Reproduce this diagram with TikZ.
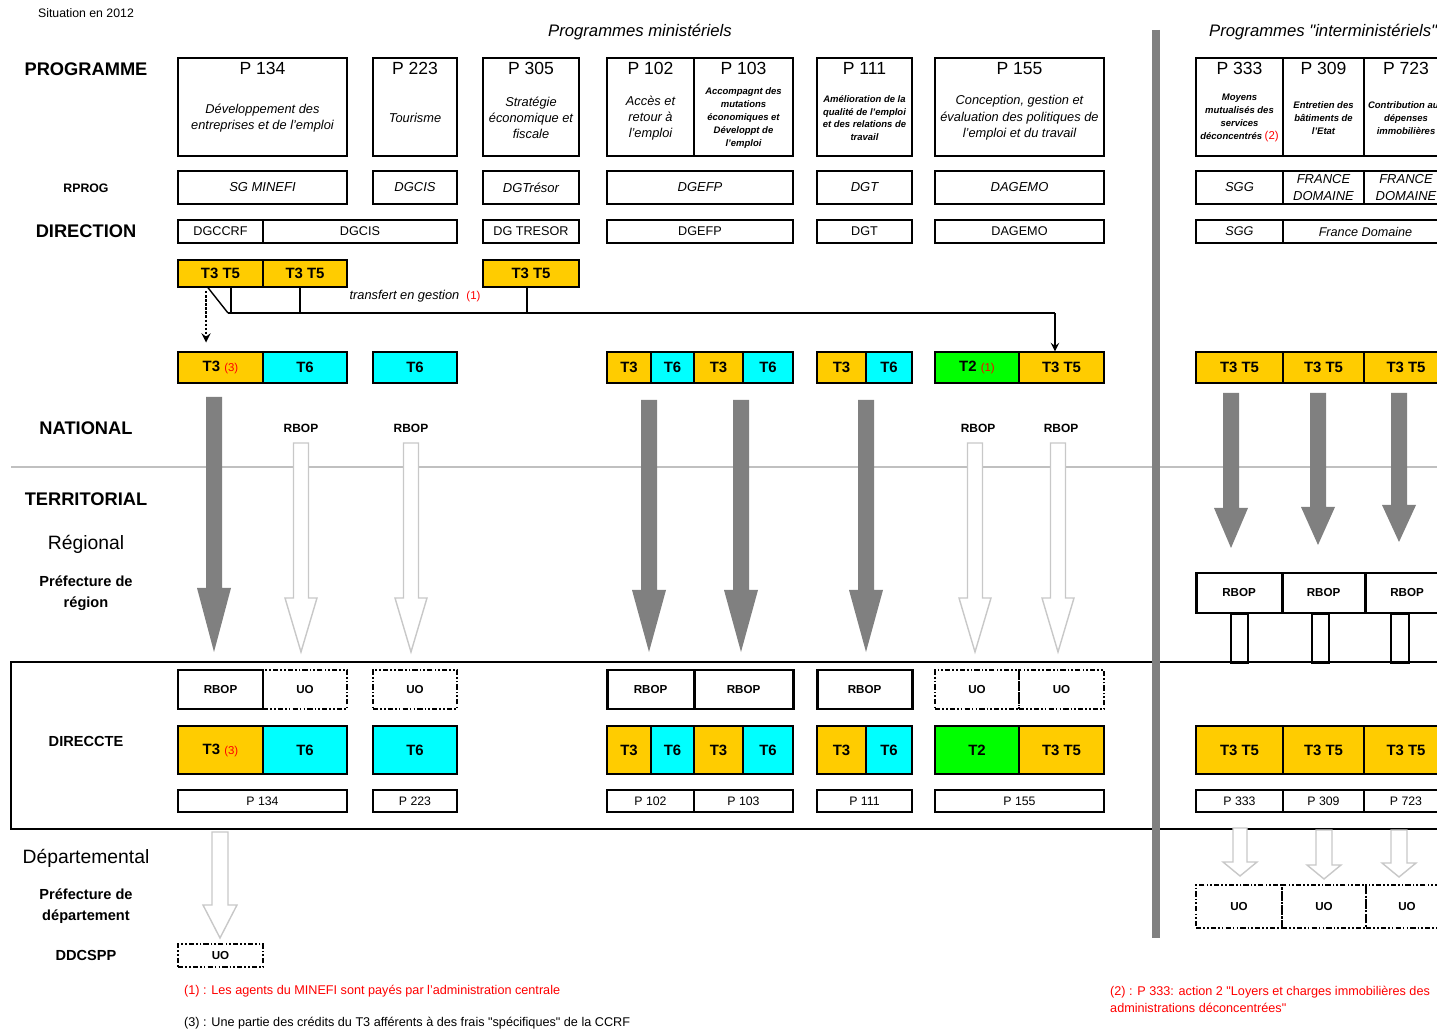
\documentclass[tikz,border=0pt]{standalone}
\usepackage{fontspec}
\setmainfont{Liberation Sans}
\usepackage{tikz}
\usetikzlibrary{arrows,positioning}
\definecolor{tjaune}{HTML}{FFCC00}
\definecolor{tcyan}{HTML}{00FFFF}
\definecolor{tvert}{HTML}{00FF00}
\definecolor{gfonce}{HTML}{808080}
\definecolor{gclair}{HTML}{C8C8C8}
\definecolor{glimite}{HTML}{C0C0C0}
\newcommand{\appel}[1]{{\mdseries\upshape\fontsize{6.5}{8}\selectfont\color{red}#1}}
\newcommand{\flechebloc}[7]{%
  \path[#1] (#2-#6,#3) -- (#2+#6,#3) -- (#2+#6,#4) -- (#2+#7,#4)
    -- (#2,#5) -- (#2-#7,#4) -- (#2-#6,#4) -- cycle;}
\tikzstyle{lvl} = [font=\fontsize{10.4}{12}\selectfont\bfseries]
\tikzstyle{sublvl} = [font=\fontsize{11}{13}\selectfont]
\tikzstyle{lvlsmall} = [align=center, font=\fontsize{8.3}{12}\selectfont\bfseries]
\tikzstyle{entete} = [font=\fontsize{9.5}{11}\selectfont\itshape]
\tikzstyle{prog} = [rectangle, draw=black, line width=0.9pt, inner sep=0pt, minimum height=1.96cm]
\tikzstyle{progtitle} = [font=\fontsize{10}{12}\selectfont]
\tikzstyle{progtext} = [align=center, font=\fontsize{7.3}{9.3}\selectfont\itshape]
\tikzstyle{progtiny} = [align=center, font=\fontsize{5.4}{7.3}\selectfont\bfseries\itshape]
\tikzstyle{rprog} = [rectangle, draw=black, line width=0.9pt, inner sep=0pt, minimum height=0.66cm, align=center, font=\fontsize{7.4}{9.5}\selectfont\itshape]
\tikzstyle{dirbox} = [rectangle, draw=black, line width=0.9pt, inner sep=0pt, minimum height=0.46cm, font=\fontsize{7.2}{8.5}\selectfont]
\tikzstyle{titre} = [rectangle, draw=black, line width=0.8pt, inner sep=0pt, font=\fontsize{8.5}{10}\selectfont\bfseries]
\tikzstyle{t35box} = [titre, fill=tjaune]
\tikzstyle{t6box} = [titre, fill=tcyan]
\tikzstyle{t2box} = [titre, fill=tvert]
\tikzstyle{rbop} = [rectangle, draw=black, line width=1.7pt, inner sep=0pt, font=\fontsize{6.6}{8}\selectfont\bfseries]
\tikzstyle{uo} = [rectangle, draw=black, line width=0.9pt, dash pattern=on 3pt off 1.2pt on 0.9pt off 1.2pt on 0.9pt off 1.2pt, inner sep=0pt, font=\fontsize{6.6}{8}\selectfont\bfseries]
\tikzstyle{pcode} = [rectangle, draw=black, line width=0.9pt, inner sep=0pt, minimum height=0.44cm, font=\fontsize{7}{8}\selectfont]
\tikzstyle{etiq} = [font=\fontsize{6.8}{8}\selectfont\bfseries]
\tikzstyle{note} = [anchor=west, align=left, font=\fontsize{7.2}{9.6}\selectfont]
\tikzstyle{cadre} = [rectangle, draw=black, line width=1.2pt, inner sep=0pt]
\tikzstyle{limite} = [draw=glimite, line width=1.7pt]
\tikzstyle{separateur} = [draw=gfonce, line width=4pt]
\tikzstyle{sombre} = [fill=gfonce]
\tikzstyle{clair} = [fill=white, draw=gclair, line width=0.8pt]
\tikzstyle{transfert} = [line width=1.5pt]
\tikzstyle{fine} = [line width=0.8pt]
\tikzstyle{fleche} = [line width=1.1pt,->,>=stealth]
\tikzstyle{pointille} = [densely dotted, line width=1.3pt, ->, >=stealth, shorten <=2pt, shorten >=5pt]
\tikzstyle{tige} = [draw=black, line width=0.8pt]
\tikzset{larg/.style={minimum width=#1*0.02cm}, haut/.style={minimum height=#1*0.02cm}}

\begin{document}
\begin{tikzpicture}[x=0.02cm, y=-0.02cm]
\useasboundingbox (0,0) rectangle (1437,1033);
\clip (0,0) rectangle (1437,1033);

% cadre DIRECCTE et limite national / territorial
\node[cadre, larg=1449, haut=167] (direccte) at (735.5,745.5) {};
\draw[limite] (11,467) -- (1437,467);

% niveaux
\node[font=\fontsize{7}{8}\selectfont] (situation) at (86,13) {Situation en 2012};
\node[lvl] (lprog) at (86,69) {PROGRAMME};
\node[etiq, font=\fontsize{7}{8}\selectfont\bfseries] (lrprog) at (86,188) {RPROG};
\node[lvl] (ldir) at (86,231) {DIRECTION};
\node[lvl] (lnat) at (86,428) {NATIONAL};
\node[lvl] (lterr) at (86,499) {TERRITORIAL};
\node[sublvl] (lreg) at (86,544) {Régional};
\node[lvlsmall] (lpref) at (86,593) {Préfecture de\\région};
\node[lvlsmall] (ldirec) at (86,741) {DIRECCTE};
\node[sublvl] (ldep) at (86,858) {Départemental};
\node[lvlsmall] (lprefd) at (86,906.5) {Préfecture de\\département};
\node[lvlsmall] (lddc) at (86,955) {DDCSPP};

\node[entete] (ministeriels) at (640,32) {Programmes ministériels};
\node[entete, anchor=west] (interministeriels) at (1203,32) {Programmes \textquotedbl interministériels\textquotedbl};

% programmes
\node[prog, larg=169] (p134) at (262.5,107) {};
\node[progtitle] (n134) at (p134.north) [yshift=-0.22cm] {P 134};
\node[progtext] (x134) at (p134) [yshift=-0.22cm] {Développement des\\entreprises et de l'emploi};
\node[prog, larg=84] (p223) at (415,107) {};
\node[progtitle] (n223) at (p223.north) [yshift=-0.22cm] {P 223};
\node[progtext] (x223) at (p223) [yshift=-0.22cm] {Tourisme};
\node[prog, larg=96] (p305) at (531,107) {};
\node[progtitle] (n305) at (p305.north) [yshift=-0.22cm] {P 305};
\node[progtext] (x305) at (p305) [yshift=-0.22cm] {Stratégie\\économique et\\fiscale};
\node[prog, larg=87] (p102) at (650.5,107) {};
\node[progtitle] (n102) at (p102.north) [yshift=-0.22cm] {P 102};
\node[progtext] (x102) at (p102) [yshift=-0.22cm] {Accès et\\retour à\\l'emploi};
\node[prog, larg=99] (p103) at (743.5,107) {};
\node[progtitle] (n103) at (p103.north) [yshift=-0.22cm] {P 103};
\node[progtiny] (x103) at (p103) [yshift=-0.22cm] {Accompagnt des\\mutations\\économiques et\\Développt de\\l'emploi};
\node[prog, larg=95] (p111) at (864.5,107) {};
\node[progtitle] (n111) at (p111.north) [yshift=-0.22cm] {P 111};
\node[progtiny] (x111) at (p111) [yshift=-0.22cm] {Amélioration de la\\qualité de l'emploi\\et des relations de\\travail};
\node[prog, larg=169] (p155) at (1019.5,107) {};
\node[progtitle] (n155) at (p155.north) [yshift=-0.22cm] {P 155};
\node[progtext] (x155) at (p155) [yshift=-0.22cm] {Conception, gestion et\\évaluation des politiques de\\l'emploi et du travail};
\node[prog, larg=87] (p333) at (1239.5,107) {};
\node[progtitle] (n333) at (p333.north) [yshift=-0.22cm] {P 333};
\node[progtiny] (x333) at (p333) [yshift=-0.22cm] {Moyens\\mutualisés des\\services\\déconcentrés \appel{(2)}};
\node[prog, larg=81] (p309) at (1323.5,107) {};
\node[progtitle] (n309) at (p309.north) [yshift=-0.22cm] {P 309};
\node[progtiny] (x309) at (p309) [yshift=-0.22cm] {Entretien des\\bâtiments de\\l'Etat};
\node[prog, larg=84] (p723) at (1406,107) {};
\node[progtitle] (n723) at (p723.north) [yshift=-0.22cm] {P 723};
\node[progtiny] (x723) at (p723) [yshift=-0.22cm] {Contribution aux\\dépenses\\immobilières};

% responsables de programme
\node[rprog, larg=169] (rp134) at (262.5,187.5) {SG MINEFI};
\node[rprog, larg=84] (rp223) at (415,187.5) {DGCIS};
\node[rprog, larg=96] (rp305) at (531,187.5) {DGTrésor};
\node[rprog, larg=186] (rp102) at (700,187.5) {DGEFP};
\node[rprog, larg=95] (rp111) at (864.5,187.5) {DGT};
\node[rprog, larg=169] (rp155) at (1019.5,187.5) {DAGEMO};
\node[rprog, larg=87] (rp333) at (1239.5,187.5) {SGG};
\node[rprog, larg=81] (rp309) at (1323.5,187.5) {FRANCE\\DOMAINE};
\node[rprog, larg=84] (rp723) at (1406,187.5) {FRANCE\\DOMAINE};

% directions
\node[dirbox, larg=85] (d134) at (220.5,231.5) {DGCCRF};
\node[dirbox, larg=194] (d223) at (360,231.5) {DGCIS};
\node[dirbox, larg=96] (d305) at (531,231.5) {DG TRESOR};
\node[dirbox, larg=186] (d102) at (700,231.5) {DGEFP};
\node[dirbox, larg=95] (d111) at (864.5,231.5) {DGT};
\node[dirbox, larg=169] (d155) at (1019.5,231.5) {DAGEMO};
\node[dirbox, larg=87, font=\fontsize{7.2}{8.5}\selectfont\itshape] (d333) at (1239.5,231.5) {SGG};
\node[dirbox, larg=165, font=\fontsize{7.2}{8.5}\selectfont\itshape] (d309) at (1365.5,231.5) {France Domaine};

% titres en administration centrale
\node[t35box, larg=85, haut=27] (ta1) at (220.5,273.5) {T3 T5};
\node[t35box, larg=84, haut=27] (ta2) at (305,273.5) {T3 T5};
\node[t35box, larg=96, haut=27] (ta3) at (531,273.5) {T3 T5};

\node[t35box, larg=85, haut=31] (tb1) at (220.5,367.5) {T3 \appel{(3)}};
\node[t6box, larg=84, haut=31] (tb2) at (305,367.5) {T6};
\node[t6box, larg=84, haut=31] (tb3) at (415,367.5) {T6};
\node[t35box, larg=44, haut=31] (tb4) at (629,367.5) {T3};
\node[t6box, larg=43, haut=31] (tb5) at (672.5,367.5) {T6};
\node[t35box, larg=49, haut=31] (tb6) at (718.5,367.5) {T3};
\node[t6box, larg=50, haut=31] (tb7) at (768,367.5) {T6};
\node[t35box, larg=49, haut=31] (tb8) at (841.5,367.5) {T3};
\node[t6box, larg=46, haut=31] (tb9) at (889,367.5) {T6};
\node[t2box, larg=84, haut=31] (tb10) at (977,367.5) {T2 \appel{(1)}};
\node[t35box, larg=85, haut=31] (tb11) at (1061.5,367.5) {T3 T5};
\node[t35box, larg=87, haut=31] (tb12) at (1239.5,367.5) {T3 T5};
\node[t35box, larg=81, haut=31] (tb13) at (1323.5,367.5) {T3 T5};
\node[t35box, larg=84, haut=31] (tb14) at (1406,367.5) {T3 T5};

% transfert en gestion
\coordinate (jonction) at (228,313);
\coordinate (arrivee) at ([xshift=-0.13cm]tb11.north);
\coordinate (k1) at ([xshift=0.21cm]ta1.south);
\coordinate (k2) at ([xshift=-0.1cm]ta2.south);
\coordinate (k3) at ([xshift=-0.08cm]ta3.south);
\draw[fine] ([xshift=-0.25cm]ta1.south) -- (jonction);
\draw[transfert] (k1) -- (k1 |- jonction);
\draw[transfert] (k2) -- (k2 |- jonction);
\draw[transfert] (k3) -- (k3 |- jonction);
\draw[transfert] (jonction) -- (jonction -| arrivee);
\draw[fleche] (jonction -| arrivee) -- (arrivee);
\draw[pointille] ([xshift=-0.29cm]ta1.south) -- ([xshift=-0.29cm]tb1.north);
\node[font=\fontsize{7.3}{9}\selectfont\itshape] (ltransfert) at (415,296) {transfert en gestion \ \appel{(1)}};

% RBOP nationaux
\node[etiq] (rbn1) at (301,428) {RBOP};
\node[etiq] (rbn2) at (411,428) {RBOP};
\node[etiq] (rbn3) at (978,428) {RBOP};
\node[etiq] (rbn4) at (1061,428) {RBOP};

% RBOP regionaux interministeriels
\node[rbop, larg=86, haut=40] (rr333) at (1239,593) {RBOP};
\node[rbop, larg=83, haut=40] (rr309) at (1323.5,593) {RBOP};
\node[rbop, larg=84, haut=40] (rr723) at (1407,593) {RBOP};
\draw[tige] ([xshift=-0.16cm]rr333.south) rectangle ++(0.34cm,-0.98cm);
\draw[tige] ([xshift=-0.23cm]rr309.south) rectangle ++(0.34cm,-0.98cm);
\draw[tige] ([xshift=-0.32cm]rr723.south) rectangle ++(0.36cm,-0.98cm);

% DIRECCTE
\node[rbop, larg=85, haut=39] (r134) at (220.5,689.5) {RBOP};
\node[uo, larg=84, haut=39] (u134) at (305,689.5) {UO};
\node[uo, larg=84, haut=39] (u223) at (415,689.5) {UO};
\node[rbop, larg=87, haut=39] (r102) at (650.5,689.5) {RBOP};
\node[rbop, larg=99, haut=39] (r103) at (743.5,689.5) {RBOP};
\node[rbop, larg=95, haut=39] (r111) at (864.5,689.5) {RBOP};
\node[uo, larg=84, haut=39] (u155a) at (977,689.5) {UO};
\node[uo, larg=85, haut=39] (u155b) at (1061.5,689.5) {UO};

\node[t35box, larg=85, haut=48] (tc1) at (220.5,750) {T3 \appel{(3)}};
\node[t6box, larg=84, haut=48] (tc2) at (305,750) {T6};
\node[t6box, larg=84, haut=48] (tc3) at (415,750) {T6};
\node[t35box, larg=44, haut=48] (tc4) at (629,750) {T3};
\node[t6box, larg=43, haut=48] (tc5) at (672.5,750) {T6};
\node[t35box, larg=49, haut=48] (tc6) at (718.5,750) {T3};
\node[t6box, larg=50, haut=48] (tc7) at (768,750) {T6};
\node[t35box, larg=49, haut=48] (tc8) at (841.5,750) {T3};
\node[t6box, larg=46, haut=48] (tc9) at (889,750) {T6};
\node[t2box, larg=84, haut=48] (tc10) at (977,750) {T2};
\node[t35box, larg=85, haut=48] (tc11) at (1061.5,750) {T3 T5};
\node[t35box, larg=87, haut=48] (tc12) at (1239.5,750) {T3 T5};
\node[t35box, larg=81, haut=48] (tc13) at (1323.5,750) {T3 T5};
\node[t35box, larg=84, haut=48] (tc14) at (1406,750) {T3 T5};

\node[pcode, larg=169] (c134) at (262.5,801) {P 134};
\node[pcode, larg=84] (c223) at (415,801) {P 223};
\node[pcode, larg=87] (c102) at (650.5,801) {P 102};
\node[pcode, larg=99] (c103) at (743.5,801) {P 103};
\node[pcode, larg=95] (c111) at (864.5,801) {P 111};
\node[pcode, larg=169] (c155) at (1019.5,801) {P 155};
\node[pcode, larg=87] (c333) at (1239.5,801) {P 333};
\node[pcode, larg=81] (c309) at (1323.5,801) {P 309};
\node[pcode, larg=84] (c723) at (1406,801) {P 723};

% unites operationnelles departementales
\node[uo, larg=86, haut=43] (ur333) at (1239,906.5) {UO};
\node[uo, larg=84, haut=43] (ur309) at (1324,906.5) {UO};
\node[uo, larg=82, haut=43] (ur723) at (1407,906.5) {UO};
\node[uo, larg=85, haut=23] (ub134) at (220.5,955.5) {UO};

% fleches de delegation
\flechebloc{sombre}{214}{397}{588}{652}{8}{17}
\flechebloc{sombre}{649}{400}{590}{652}{8}{17}
\flechebloc{sombre}{741}{400}{590}{652}{8}{17}
\flechebloc{sombre}{866}{400}{590}{652}{8}{17}
\flechebloc{sombre}{1231}{393}{508}{548}{8}{17}
\flechebloc{sombre}{1318}{393}{507}{545}{8}{17}
\flechebloc{sombre}{1399}{393}{505}{542}{8}{17}
\flechebloc{clair}{301}{443}{598}{652}{7.5}{16}
\flechebloc{clair}{411}{443}{598}{652}{7.5}{16}
\flechebloc{clair}{975}{443}{598}{652}{7.5}{16}
\flechebloc{clair}{1058}{443}{598}{652}{7.5}{16}
\flechebloc{clair}{220}{832}{905}{938}{8}{17}
\flechebloc{clair}{1240}{828}{862}{876}{7}{17}
\flechebloc{clair}{1324}{830}{865}{879}{8}{17}
\flechebloc{clair}{1399}{830}{863}{877}{8}{17}

% separation ministeriels / interministeriels
\draw[separateur] (1156,30) -- (1156,938);

% notes
\node[note, text=red] (note1) at (178,991) {(1) : Les agents du MINEFI sont payés par l'administration centrale};
\node[note] (note3) at (178,1023) {(3) : Une partie des crédits du T3 afférents à des frais \textquotedbl spécifiques\textquotedbl{} de la CCRF};
\node[note, text=red] (note2) at (1104,999.5) {(2) : P 333: action 2 \textquotedbl Loyers et charges immobilières des\\administrations déconcentrées\textquotedbl};
\end{tikzpicture}
\end{document}
